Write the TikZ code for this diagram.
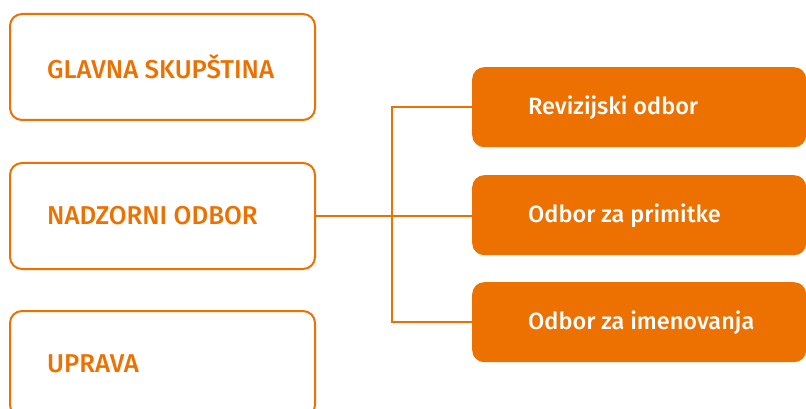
\documentclass[tikz,border=0pt]{standalone}
\usepackage{fontspec}
\setmainfont{Fira Sans}[UprightFont={* Medium}]
\usetikzlibrary{positioning}
\definecolor{brand}{RGB}{236,113,0}

\tikzset{
  leftbox/.style={draw=brand, line width=2pt, rounded corners=12pt,
    minimum width=305pt, minimum height=106pt, anchor=north west},
  leftlabel/.style={anchor=west, inner sep=0pt, xshift=38pt, text=brand,
    font=\fontsize{25.8}{28}\selectfont},
  rightbox/.style={fill=brand, rounded corners=12pt,
    minimum width=334pt, minimum height=80pt, anchor=north west},
  rightlabel/.style={anchor=west, inner sep=0pt, xshift=56pt, text=white,
    font=\fontsize{23.5}{28}\selectfont},
  link/.style={draw=brand, line width=2pt},
}

\begin{document}
\begin{tikzpicture}[x=1pt,y=-1pt]
    % page frame
    \useasboundingbox (0,0) rectangle (806,409);
    \clip (0,0) rectangle (806,409);
    % left column
    \node[leftbox, label={[leftlabel]west:GLAVNA SKUPŠTINA}] (skupstina) at (9,13) {};
    \node[leftbox, label={[leftlabel]west:NADZORNI ODBOR}] (nadzorni) at (9,162) {};
    \node[leftbox, label={[leftlabel]west:UPRAVA}] (uprava) at (9,310) {};
    % committees
    \node[rightbox, label={[rightlabel]west:Revizijski odbor}] (revizijski) at (472,67) {};
    \node[rightbox, label={[rightlabel]west:Odbor za primitke}] (primitke) at (472,175) {};
    \node[rightbox, label={[rightlabel]west:Odbor za imenovanja}] (imenovanja) at (472,282) {};
    % connectors
    \coordinate (bus) at (392,0);
    \draw[link] (nadzorni.east) -- (nadzorni.east -| primitke.west);
    \draw[link] (revizijski.west) -- (revizijski.west -| bus) -- (imenovanja.west -| bus) -- (imenovanja.west);
\end{tikzpicture}
\end{document}
